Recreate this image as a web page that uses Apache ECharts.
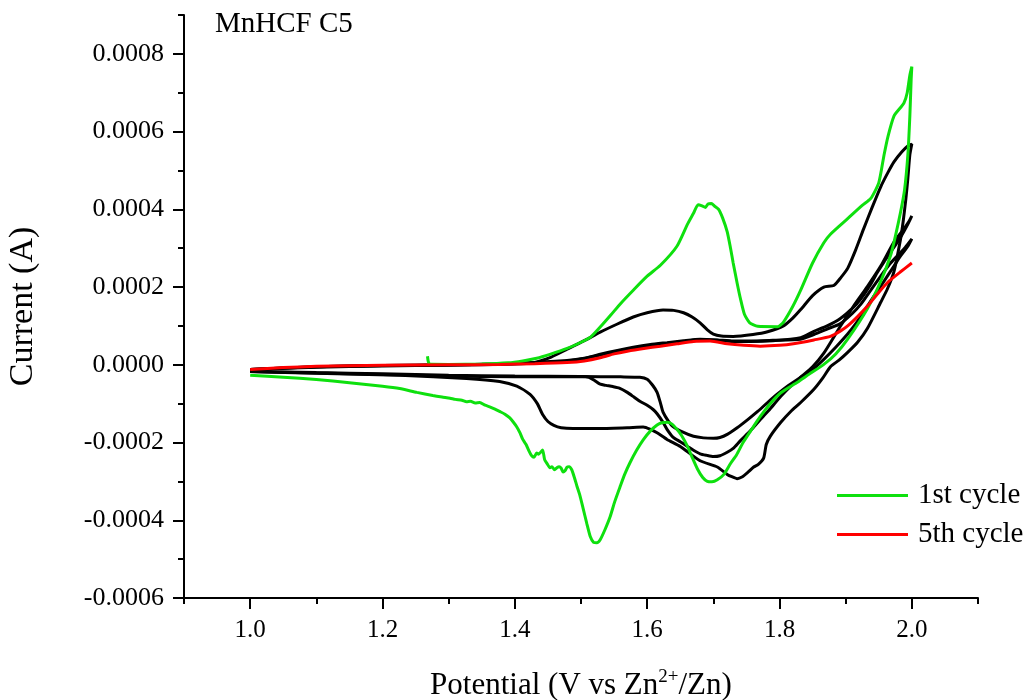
<!DOCTYPE html>
<html>
<head>
<meta charset="utf-8">
<title>MnHCF C5 cyclic voltammetry</title>
<script src="https://cdn.jsdelivr.net/npm/echarts@6/dist/echarts.min.js"></script>
<style>
  html, body { margin: 0; padding: 0; background: #fff; }
  #chart { width: 1032px; height: 700px; }
</style>
</head>
<body>
<div id="chart"></div>
<script>
// Potential (V vs Zn2+/Zn) and current (A) pairs for each CV cycle.
// Each cycle: anodic sweep up to 2.0 V, then cathodic sweep back to 1.0 V.
const cycle1 = [
  [1.268, 0.000022], [1.269, 0.000010], [1.271, 0.000002], [1.300, 0.000001], [1.350, 0.000002],
  [1.390, 0.000005], [1.412, 0.000010], [1.433, 0.000017], [1.453, 0.000027], [1.479, 0.000042],
  [1.500, 0.000058], [1.515, 0.000072], [1.529, 0.000097], [1.545, 0.000128], [1.560, 0.000158],
  [1.579, 0.000192], [1.600, 0.000228], [1.620, 0.000256], [1.645, 0.000305], [1.661, 0.000362],
  [1.670, 0.000390], [1.677, 0.000412], [1.683, 0.000409], [1.688, 0.000405], [1.692, 0.000414],
  [1.697, 0.000415], [1.702, 0.000408], [1.708, 0.000400], [1.714, 0.000378], [1.721, 0.000342],
  [1.726, 0.000300], [1.730, 0.000262], [1.736, 0.000210], [1.741, 0.000170], [1.747, 0.000130],
  [1.755, 0.000108], [1.767, 0.000099], [1.797, 0.000098], [1.806, 0.000110], [1.820, 0.000150],
  [1.832, 0.000192], [1.850, 0.000262], [1.867, 0.000314], [1.877, 0.000336], [1.903, 0.000376],
  [1.925, 0.000410], [1.938, 0.000428], [1.950, 0.000468], [1.958, 0.000540], [1.964, 0.000588],
  [1.973, 0.000640], [1.983, 0.000662], [1.988, 0.000673], [1.993, 0.000700], [1.997, 0.000745],
  [2.000, 0.000767],
  [1.999, 0.000735], [1.997, 0.000640], [1.994, 0.000540], [1.989, 0.000450], [1.983, 0.000393],
  [1.975, 0.000330], [1.968, 0.000282], [1.953, 0.000215], [1.933, 0.000145], [1.903, 0.000066],
  [1.885, 0.000028], [1.867, 0.000001], [1.845, -0.000024], [1.827, -0.000045], [1.802, -0.000072],
  [1.785, -0.000102], [1.771, -0.000133], [1.758, -0.000166], [1.745, -0.000200], [1.735, -0.000232],
  [1.726, -0.000254], [1.716, -0.000282], [1.706, -0.000296], [1.698, -0.000301], [1.691, -0.000300],
  [1.684, -0.000290], [1.676, -0.000268], [1.668, -0.000238], [1.661, -0.000210], [1.652, -0.000182],
  [1.645, -0.000166], [1.637, -0.000152], [1.630, -0.000148], [1.622, -0.000149], [1.615, -0.000155],
  [1.605, -0.000170], [1.594, -0.000193], [1.584, -0.000220], [1.574, -0.000252], [1.566, -0.000282],
  [1.559, -0.000314], [1.551, -0.000352], [1.544, -0.000391], [1.536, -0.000425], [1.529, -0.000450],
  [1.524, -0.000458], [1.519, -0.000457], [1.514, -0.000442], [1.509, -0.000410], [1.503, -0.000368],
  [1.498, -0.000334], [1.494, -0.000313], [1.490, -0.000290], [1.486, -0.000270], [1.482, -0.000262],
  [1.479, -0.000263], [1.476, -0.000272], [1.473, -0.000276], [1.470, -0.000266], [1.467, -0.000262],
  [1.464, -0.000264], [1.460, -0.000270], [1.456, -0.000262], [1.453, -0.000265], [1.449, -0.000255],
  [1.445, -0.000244], [1.442, -0.000219], [1.439, -0.000225], [1.436, -0.000230], [1.433, -0.000227],
  [1.429, -0.000238], [1.425, -0.000233], [1.421, -0.000220], [1.417, -0.000205], [1.412, -0.000192],
  [1.408, -0.000176], [1.403, -0.000160], [1.397, -0.000146], [1.392, -0.000136], [1.385, -0.000127],
  [1.377, -0.000120], [1.370, -0.000114], [1.362, -0.000108], [1.355, -0.000104], [1.347, -0.000097],
  [1.340, -0.000098], [1.333, -0.000094], [1.327, -0.000095], [1.320, -0.000091], [1.310, -0.000089],
  [1.302, -0.000086], [1.290, -0.000083], [1.276, -0.000079], [1.252, -0.000071], [1.226, -0.000061],
  [1.200, -0.000055], [1.150, -0.000046], [1.100, -0.000038], [1.050, -0.000032], [1.000, -0.000027]
];

const cycle2 = [
  [1.000, -0.000012], [1.100, -0.000006], [1.200, -0.000003], [1.300, -0.000001], [1.400, 0.000002],
  [1.427, 0.000005], [1.455, 0.000020], [1.479, 0.000040], [1.505, 0.000062], [1.529, 0.000084],
  [1.555, 0.000105], [1.579, 0.000123], [1.600, 0.000134], [1.624, 0.000141], [1.640, 0.000140],
  [1.655, 0.000134], [1.668, 0.000123], [1.680, 0.000108], [1.691, 0.000090], [1.700, 0.000079],
  [1.712, 0.000074], [1.730, 0.000073], [1.760, 0.000078], [1.782, 0.000085], [1.806, 0.000100],
  [1.820, 0.000120], [1.832, 0.000142], [1.850, 0.000178], [1.867, 0.000200], [1.882, 0.000204],
  [1.893, 0.000225], [1.903, 0.000248], [1.915, 0.000295], [1.927, 0.000349], [1.940, 0.000405],
  [1.953, 0.000458], [1.964, 0.000495], [1.973, 0.000522], [1.985, 0.000548], [1.994, 0.000563],
  [2.000, 0.000568],
  [1.997, 0.000540], [1.994, 0.000480], [1.991, 0.000427], [1.987, 0.000370], [1.983, 0.000324],
  [1.973, 0.000240], [1.963, 0.000195], [1.953, 0.000161], [1.933, 0.000094], [1.918, 0.000058],
  [1.903, 0.000032], [1.890, 0.000012], [1.877, -0.000005], [1.865, -0.000035], [1.852, -0.000063],
  [1.832, -0.000097], [1.817, -0.000120], [1.802, -0.000148], [1.786, -0.000184], [1.780, -0.000205],
  [1.776, -0.000240], [1.768, -0.000256], [1.761, -0.000263], [1.752, -0.000277], [1.744, -0.000288],
  [1.736, -0.000293], [1.728, -0.000288], [1.721, -0.000282], [1.706, -0.000263], [1.680, -0.000247],
  [1.650, -0.000210], [1.630, -0.000192], [1.615, -0.000175], [1.605, -0.000166], [1.594, -0.000160],
  [1.570, -0.000162], [1.529, -0.000164], [1.488, -0.000164], [1.470, -0.000162], [1.459, -0.000156],
  [1.450, -0.000146], [1.442, -0.000128], [1.434, -0.000100], [1.423, -0.000076], [1.403, -0.000055],
  [1.377, -0.000043], [1.327, -0.000035], [1.226, -0.000027], [1.100, -0.000022], [1.000, -0.000017]
];

const cycle3 = [
  [1.000, -0.000012], [1.100, -0.000005], [1.200, -0.000002], [1.300, 0.000000], [1.377, 0.000002],
  [1.430, 0.000005], [1.479, 0.000010], [1.505, 0.000016], [1.529, 0.000025], [1.555, 0.000035],
  [1.579, 0.000043], [1.605, 0.000050], [1.630, 0.000055], [1.655, 0.000060], [1.680, 0.000065],
  [1.706, 0.000063], [1.730, 0.000060], [1.756, 0.000060], [1.790, 0.000062], [1.832, 0.000070],
  [1.852, 0.000086], [1.872, 0.000100], [1.892, 0.000119], [1.910, 0.000145], [1.923, 0.000170],
  [1.937, 0.000205], [1.948, 0.000238], [1.958, 0.000265], [1.968, 0.000290], [1.980, 0.000320],
  [1.988, 0.000343], [1.995, 0.000365], [2.000, 0.000383],
  [1.996, 0.000370], [1.988, 0.000350], [1.973, 0.000316], [1.953, 0.000254], [1.933, 0.000202],
  [1.912, 0.000151], [1.892, 0.000099], [1.867, 0.000030], [1.850, -0.000005], [1.832, -0.000032],
  [1.817, -0.000055], [1.802, -0.000081], [1.786, -0.000113], [1.771, -0.000141], [1.756, -0.000170],
  [1.741, -0.000195], [1.730, -0.000215], [1.721, -0.000225], [1.710, -0.000234], [1.700, -0.000236],
  [1.690, -0.000233], [1.680, -0.000229], [1.670, -0.000220], [1.661, -0.000210], [1.650, -0.000198],
  [1.639, -0.000186], [1.630, -0.000166], [1.624, -0.000148], [1.615, -0.000126], [1.609, -0.000115],
  [1.600, -0.000104], [1.589, -0.000094], [1.580, -0.000083], [1.570, -0.000071], [1.558, -0.000060],
  [1.548, -0.000056], [1.538, -0.000053], [1.529, -0.000050], [1.520, -0.000040], [1.512, -0.000032],
  [1.500, -0.000030], [1.450, -0.000031], [1.400, -0.000031], [1.300, -0.000029], [1.200, -0.000025],
  [1.100, -0.000021], [1.000, -0.000017]
];

const cycle4 = [
  [1.000, -0.000012], [1.100, -0.000005], [1.200, -0.000002], [1.300, 0.000000], [1.377, 0.000002],
  [1.430, 0.000006], [1.479, 0.000011], [1.505, 0.000017], [1.529, 0.000027], [1.555, 0.000037],
  [1.579, 0.000045], [1.605, 0.000052], [1.630, 0.000057], [1.655, 0.000062], [1.680, 0.000066],
  [1.706, 0.000064], [1.730, 0.000061], [1.756, 0.000061], [1.790, 0.000063], [1.832, 0.000066],
  [1.852, 0.000078], [1.872, 0.000092], [1.892, 0.000106], [1.910, 0.000132], [1.923, 0.000156],
  [1.938, 0.000192], [1.953, 0.000228], [1.966, 0.000258], [1.979, 0.000282], [1.990, 0.000302],
  [2.000, 0.000324],
  [1.994, 0.000305], [1.983, 0.000280], [1.973, 0.000254], [1.953, 0.000202], [1.940, 0.000170],
  [1.927, 0.000135], [1.915, 0.000105], [1.903, 0.000079], [1.885, 0.000045], [1.867, 0.000014],
  [1.850, -0.000012], [1.832, -0.000032], [1.812, -0.000055], [1.797, -0.000075], [1.782, -0.000097],
  [1.767, -0.000120], [1.752, -0.000141], [1.736, -0.000162], [1.721, -0.000179], [1.710, -0.000187],
  [1.700, -0.000189], [1.685, -0.000188], [1.670, -0.000184], [1.655, -0.000174], [1.639, -0.000159],
  [1.632, -0.000145], [1.624, -0.000122], [1.620, -0.000098], [1.615, -0.000071], [1.608, -0.000052],
  [1.600, -0.000037], [1.589, -0.000032], [1.560, -0.000031], [1.500, -0.000030], [1.400, -0.000029],
  [1.300, -0.000027], [1.200, -0.000023], [1.100, -0.000020], [1.000, -0.000017]
];

const cycle5 = [
  [1.000, -0.000012], [1.050, -0.000007], [1.100, -0.000004], [1.200, -0.000001], [1.300, 0.000000],
  [1.377, 0.000001], [1.430, 0.000003], [1.479, 0.000006], [1.505, 0.000010], [1.529, 0.000018],
  [1.550, 0.000028], [1.570, 0.000035], [1.595, 0.000042], [1.620, 0.000048], [1.645, 0.000054],
  [1.670, 0.000060], [1.695, 0.000061], [1.721, 0.000054], [1.746, 0.000050], [1.771, 0.000048],
  [1.800, 0.000050], [1.821, 0.000054], [1.852, 0.000064], [1.877, 0.000073], [1.893, 0.000088],
  [1.903, 0.000100], [1.918, 0.000124], [1.933, 0.000151], [1.948, 0.000182], [1.964, 0.000213],
  [1.982, 0.000238], [2.000, 0.000262]
];

// Axis ticks
const xMajorTicks = [1.0, 1.2, 1.4, 1.6, 1.8, 2.0];
const xMinorTicks = [0.9, 1.0, 1.1, 1.2, 1.3, 1.4, 1.5, 1.6, 1.7, 1.8, 1.9, 2.0, 2.1];
const yMajorTicks = [-0.0006, -0.0004, -0.0002, 0.0, 0.0002, 0.0004, 0.0006, 0.0008];
const yMinorTicks = [-0.0006, -0.0005, -0.0004, -0.0003, -0.0002, -0.0001, 0.0, 0.0001,
                     0.0002, 0.0003, 0.0004, 0.0005, 0.0006, 0.0007, 0.0008, 0.0009];

const FONT = '"Liberation Serif", "Times New Roman", serif';
const GREEN = '#0ee00e';
const RED = '#ff0000';
const BLACK = '#000000';
const axisLineStyle = { color: '#000', width: 2 };

const chart = echarts.init(document.getElementById('chart'), null, { renderer: 'canvas' });

function cvSeries(name, data, color) {
  return {
    name: name,
    type: 'line',
    data: data,
    xAxisIndex: 0,
    yAxisIndex: 0,
    showSymbol: false,
    symbol: 'none',
    smooth: 0.2,
    lineStyle: { color: color, width: 3 },
    itemStyle: { color: color },
    emphasis: { disabled: true }
  };
}

chart.setOption({
  animation: false,
  backgroundColor: '#fff',
  title: {
    text: 'MnHCF C5',
    left: 215,
    top: 10,
    padding: 0,
    textStyle: { fontFamily: FONT, fontSize: 29, fontWeight: 'normal', color: '#000' }
  },
  legend: {
    data: ['1st cycle', '5th cycle'],
    orient: 'vertical',
    left: 837,
    top: 481,
    padding: 0,
    icon: 'rect',
    itemWidth: 71,
    itemHeight: 3,
    itemGap: 10,
    textStyle: { fontFamily: FONT, fontSize: 29, color: '#000', padding: [0, 0, 0, 5] }
  },
  grid: { left: 184, top: 15, width: 794, height: 583, outerBoundsMode: 'none', containLabel: false },
  xAxis: [
    {
      type: 'value',
      min: 0.9,
      max: 2.1,
      position: 'bottom',
      axisLine: { onZero: false, lineStyle: axisLineStyle },
      axisTick: { customValues: xMajorTicks, length: 11, lineStyle: axisLineStyle },
      axisLabel: {
        customValues: xMajorTicks,
        formatter: v => v.toFixed(1),
        fontFamily: FONT, fontSize: 25, color: '#000', margin: 20
      },
      splitLine: { show: false },
      name: 'Potential (V vs Zn{sup|2+}/Zn)',
      nameLocation: 'middle',
      nameGap: 70,
      nameTextStyle: {
        fontFamily: FONT, fontSize: 31, color: '#000',
        rich: {
          sup: { fontFamily: FONT, fontSize: 19, color: '#000', verticalAlign: 'top', padding: [0, 0, 16, 0] }
        }
      }
    },
    {
      type: 'value',
      min: 0.9,
      max: 2.1,
      position: 'bottom',
      axisLine: { show: false, onZero: false },
      axisTick: { customValues: xMinorTicks, length: 6, lineStyle: axisLineStyle },
      axisLabel: { show: false, customValues: xMinorTicks },
      splitLine: { show: false }
    }
  ],
  yAxis: [
    {
      type: 'value',
      min: -0.0006,
      max: 0.0009,
      position: 'left',
      axisLine: { onZero: false, lineStyle: axisLineStyle },
      axisTick: { customValues: yMajorTicks, length: 11, lineStyle: axisLineStyle },
      axisLabel: {
        customValues: yMajorTicks,
        formatter: v => v.toFixed(4),
        fontFamily: FONT, fontSize: 26, color: '#000', margin: 20
      },
      splitLine: { show: false },
      name: 'Current (A)',
      nameLocation: 'middle',
      nameGap: 144,
      nameTextStyle: { fontFamily: FONT, fontSize: 34, color: '#000' }
    },
    {
      type: 'value',
      min: -0.0006,
      max: 0.0009,
      position: 'left',
      axisLine: { show: false, onZero: false },
      axisTick: { customValues: yMinorTicks, length: 6, lineStyle: axisLineStyle },
      axisLabel: { show: false, customValues: yMinorTicks },
      splitLine: { show: false }
    }
  ],
  series: [
    cvSeries('2nd cycle', cycle2, BLACK),
    cvSeries('3rd cycle', cycle3, BLACK),
    cvSeries('4th cycle', cycle4, BLACK),
    cvSeries('1st cycle', cycle1, GREEN),
    cvSeries('5th cycle', cycle5, RED)
  ]
});
</script>
</body>
</html>
